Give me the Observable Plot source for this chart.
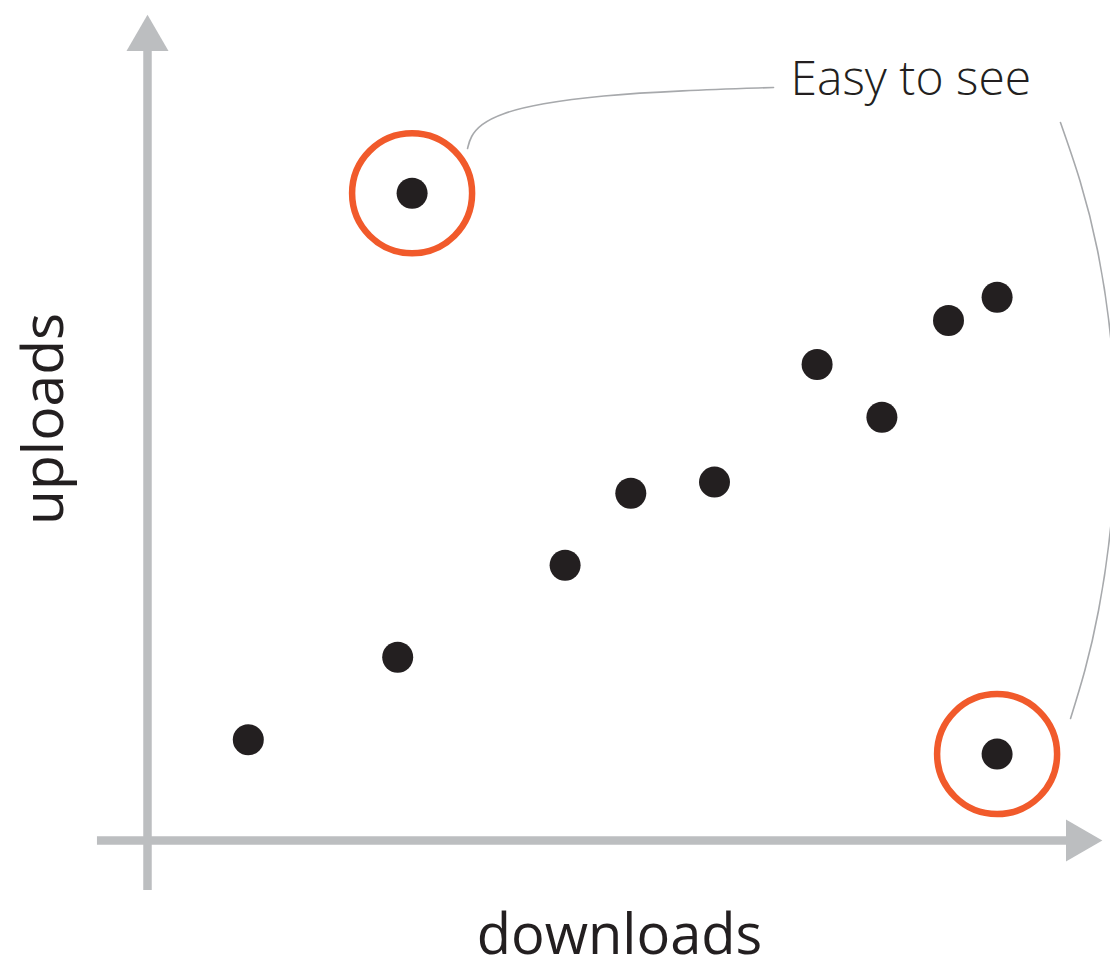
<!DOCTYPE html>
<html>
<head>
<meta charset="utf-8">
<script src="https://cdn.jsdelivr.net/npm/d3@7"></script>
<script src="https://cdn.jsdelivr.net/npm/@observablehq/plot@0.6"></script>
<style>
  html, body { margin: 0; padding: 0; background: #ffffff; }
  #chart svg { display: block; }
</style>
</head>
<body>
<div id="chart"></div>
<script>
// Data (arbitrary units, origin at axis crossing)
const downloads = [1.12, 2.78, 4.64, 5.37, 6.30, 7.44, 8.16, 8.90, 9.44, 2.94, 9.44];
const uploads   = [1.26, 2.29, 3.44, 4.34, 4.48, 5.95, 5.29, 6.50, 6.79, 8.09, 1.08];
const outlierIndex = [9, 10];

// Axis geometry in data units
const yAxisSpan = [-0.625, 9.875];
const xAxisSpan = [-0.556, 10.26];
const yArrowTip = [0, 10.02];
const xArrowTip = [10.34, 0];

// Labels
const xLabel = "downloads";
const yLabel = "uploads";
const note = "Easy to see";
const xLabelPos = [5.244, -1.2];
const yLabelPos = [-1.144, 5.27];
const notePos = [7.145, 9.51];

// Annotation leader lines (data units)
const leader1X = [3.556, 3.589, 3.700, 3.922, 4.367, 5.033, 5.922, 6.956];
const leader1Y = [8.65, 8.80, 8.95, 9.0875, 9.2125, 9.3125, 9.375, 9.4125];
const leader2X = [10.144, 10.556, 10.756, 10.567, 10.256];
const leader2Y = [8.975, 7.375, 5.0625, 2.875, 1.525];

const points = downloads.map((d, i) => ({downloads: d, uploads: uploads[i]}));
const outliers = outlierIndex.map(i => points[i]);
const lead1 = leader1X.map((x, i) => ({x, y: leader1Y[i]}));
const lead2 = leader2X.map((x, i) => ({x, y: leader2Y[i]}));

const gray = "#bcbec0";
const ink = "#231f20";
const orange = "#f15a2b";
const leaderColor = "#a7a9ac";

const chart = Plot.plot({
  width: 1110,
  height: 961,
  margin: 0,
  x: {domain: [0, 10], range: [147, 1047], axis: null},
  y: {domain: [0, 10], range: [840, 40], axis: null},
  marks: [
    Plot.ruleX([0], {y1: yAxisSpan[0], y2: yAxisSpan[1], stroke: gray, strokeWidth: 8.5}),
    Plot.ruleY([0], {x1: xAxisSpan[0], x2: xAxisSpan[1], stroke: gray, strokeWidth: 8.5}),
    Plot.dot([yArrowTip], {x: d => d[0], y: d => d[1], symbol: "triangle", r: 15.6, fill: gray, stroke: null}),
    Plot.dot([xArrowTip], {x: d => d[0], y: d => d[1], symbol: "triangle", r: 15.6, fill: gray, stroke: null, rotate: 90}),
    Plot.line(lead1, {x: "x", y: "y", curve: "basis", stroke: leaderColor, strokeWidth: 1.6}),
    Plot.line(lead2, {x: "x", y: "y", curve: "natural", stroke: leaderColor, strokeWidth: 1.6}),
    Plot.dot(outliers, {x: "downloads", y: "uploads", r: 60, stroke: orange, strokeWidth: 6.5, fill: "none"}),
    Plot.dot(points, {x: "downloads", y: "uploads", r: 15.5, fill: ink, stroke: null}),
    Plot.text([xLabelPos], {x: d => d[0], y: d => d[1], text: () => xLabel, fontSize: 56, fill: ink, textAnchor: "middle", fontFamily: "'Open Sans', sans-serif"}),
    Plot.text([yLabelPos], {x: d => d[0], y: d => d[1], text: () => yLabel, fontSize: 57, fill: ink, textAnchor: "middle", rotate: -90, fontFamily: "'Open Sans', sans-serif"}),
    Plot.text([notePos], {x: d => d[0], y: d => d[1], text: () => note, fontSize: 48, fill: ink, textAnchor: "start", fontWeight: 300, fontFamily: "'Open Sans', sans-serif"})
  ]
});
document.getElementById("chart").appendChild(chart);
</script>
</body>
</html>
